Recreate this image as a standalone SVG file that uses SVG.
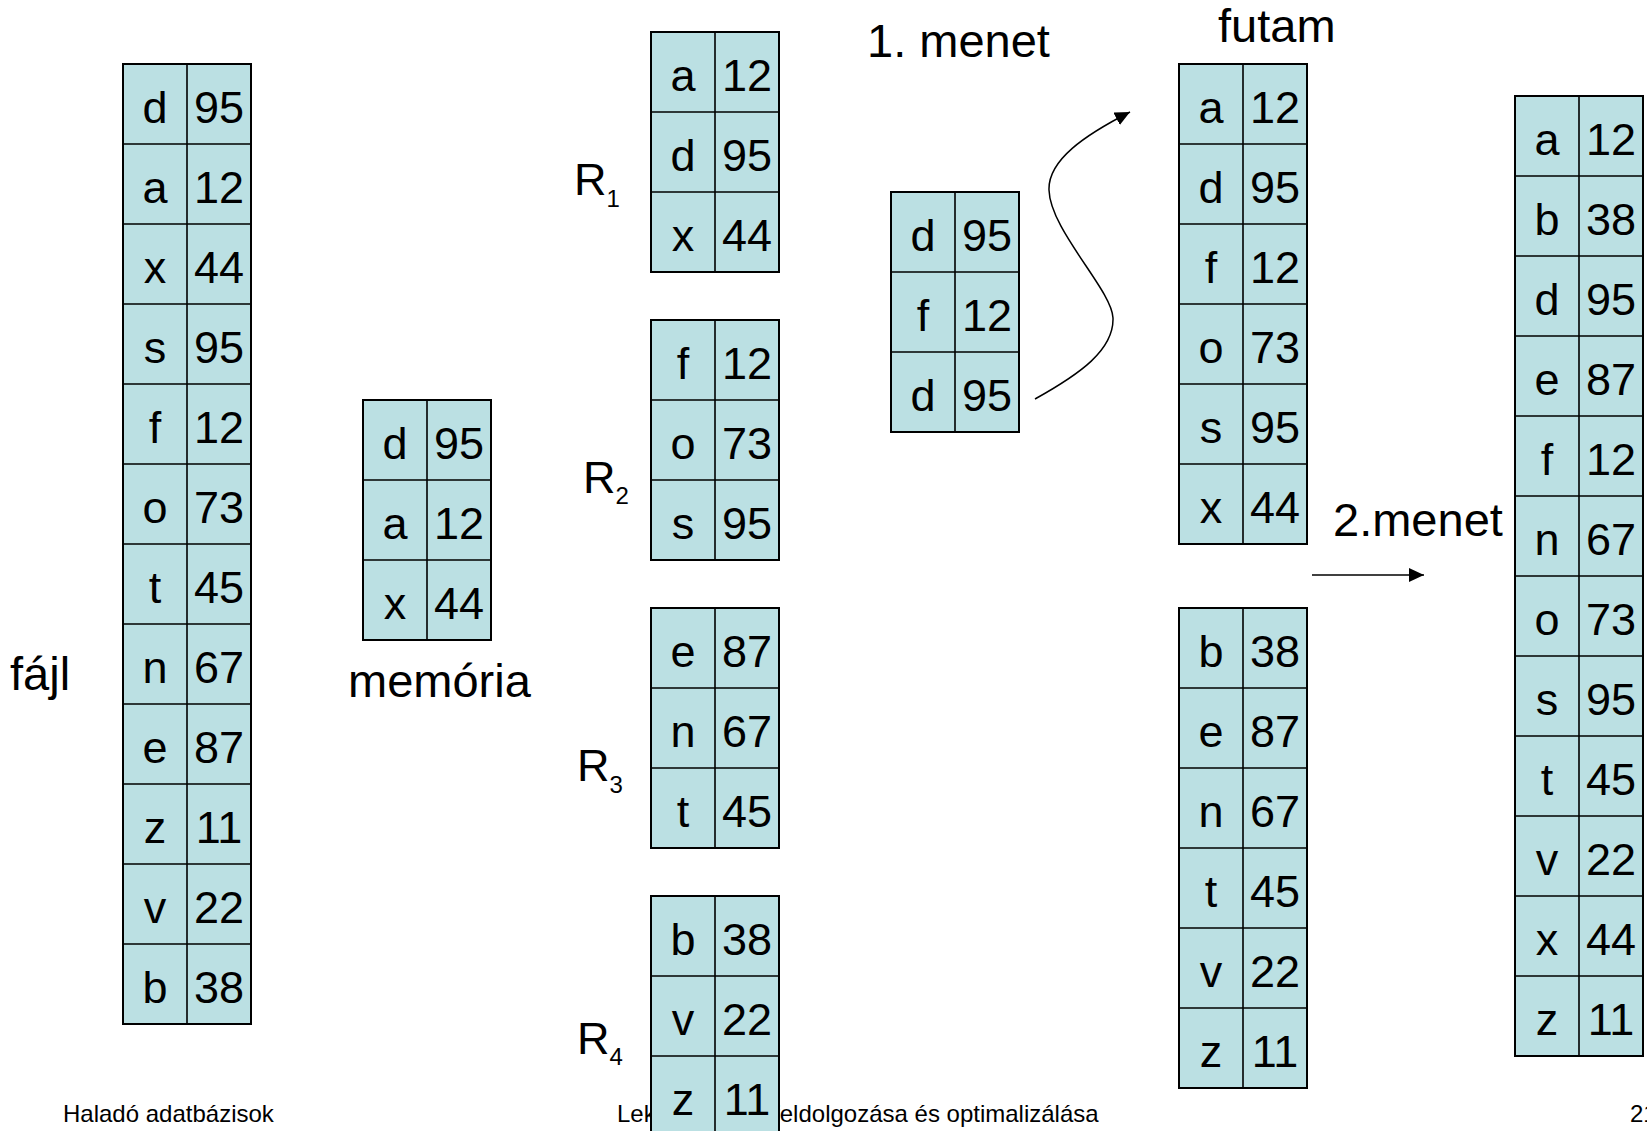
<svg xmlns="http://www.w3.org/2000/svg" width="1647" height="1131" viewBox="0 0 1647 1131">
<style>
text{font-family:"Liberation Sans",Arial,sans-serif;fill:#000}
.t{fill:#BBE0E3;stroke:#000;stroke-width:2}
.g{fill:none;stroke:#000;stroke-width:1.6}
.c{font-size:45px;text-anchor:middle}
.lbl{font-size:47px}
.r{font-size:45px}
.sub{font-size:24px}
.ft{font-size:24px}
.con{fill:none;stroke:#000;stroke-width:1.5}
</style>
<defs>
<marker id="ah" markerUnits="userSpaceOnUse" markerWidth="16" markerHeight="15" refX="15" refY="7" orient="auto"><path d="M0,0 L15,7 L0,14 z" fill="#000"/></marker>
</defs>
<rect width="1647" height="1131" fill="#fff"/>

<g id="footer">
<text class="ft" x="63" y="1122">Haladó adatbázisok</text>
<text class="ft" x="617" y="1122">Lekérdezések feldolgozása és optimalizálása</text>
<text class="ft" x="1630" y="1122">21</text>
</g>

<g id="labels">
<text class="lbl" x="10" y="690">fájl</text>
<text class="lbl" x="348" y="697">memória</text>
<text class="lbl" x="867" y="57">1. menet</text>
<text class="lbl" x="1218" y="42">futam</text>
<text class="lbl" x="1333" y="536">2.menet</text>
<text class="r" x="574" y="195">R<tspan class="sub" dy="11.7">1</tspan></text>
<text class="r" x="583" y="493">R<tspan class="sub" dy="10.7">2</tspan></text>
<text class="r" x="577" y="781">R<tspan class="sub" dy="11.7">3</tspan></text>
<text class="r" x="577" y="1054">R<tspan class="sub" dy="10.7">4</tspan></text>
</g>

<g id="file">
<rect class="t" x="123" y="64" width="128" height="960"/>
<path class="g" d="M187 64V1024M123 144H251M123 224H251M123 304H251M123 384H251M123 464H251M123 544H251M123 624H251M123 704H251M123 784H251M123 864H251M123 944H251"/>
<g class="c">
<text x="155" y="123">d</text><text x="219" y="123">95</text>
<text x="155" y="203">a</text><text x="219" y="203">12</text>
<text x="155" y="283">x</text><text x="219" y="283">44</text>
<text x="155" y="363">s</text><text x="219" y="363">95</text>
<text x="155" y="443">f</text><text x="219" y="443">12</text>
<text x="155" y="523">o</text><text x="219" y="523">73</text>
<text x="155" y="603">t</text><text x="219" y="603">45</text>
<text x="155" y="683">n</text><text x="219" y="683">67</text>
<text x="155" y="763">e</text><text x="219" y="763">87</text>
<text x="155" y="843">z</text><text x="219" y="843">11</text>
<text x="155" y="923">v</text><text x="219" y="923">22</text>
<text x="155" y="1003">b</text><text x="219" y="1003">38</text>
</g>
</g>

<g id="memory">
<rect class="t" x="363" y="400" width="128" height="240"/>
<path class="g" d="M427 400V640M363 480H491M363 560H491"/>
<g class="c">
<text x="395" y="459">d</text><text x="459" y="459">95</text>
<text x="395" y="539">a</text><text x="459" y="539">12</text>
<text x="395" y="619">x</text><text x="459" y="619">44</text>
</g>
</g>

<g id="R1">
<rect class="t" x="651" y="32" width="128" height="240"/>
<path class="g" d="M715 32V272M651 112H779M651 192H779"/>
<g class="c">
<text x="683" y="91">a</text><text x="747" y="91">12</text>
<text x="683" y="171">d</text><text x="747" y="171">95</text>
<text x="683" y="251">x</text><text x="747" y="251">44</text>
</g>
</g>

<g id="R2">
<rect class="t" x="651" y="320" width="128" height="240"/>
<path class="g" d="M715 320V560M651 400H779M651 480H779"/>
<g class="c">
<text x="683" y="379">f</text><text x="747" y="379">12</text>
<text x="683" y="459">o</text><text x="747" y="459">73</text>
<text x="683" y="539">s</text><text x="747" y="539">95</text>
</g>
</g>

<g id="R3">
<rect class="t" x="651" y="608" width="128" height="240"/>
<path class="g" d="M715 608V848M651 688H779M651 768H779"/>
<g class="c">
<text x="683" y="667">e</text><text x="747" y="667">87</text>
<text x="683" y="747">n</text><text x="747" y="747">67</text>
<text x="683" y="827">t</text><text x="747" y="827">45</text>
</g>
</g>

<g id="R4">
<rect class="t" x="651" y="896" width="128" height="240"/>
<path class="g" d="M715 896V1136M651 976H779M651 1056H779"/>
<g class="c">
<text x="683" y="955">b</text><text x="747" y="955">38</text>
<text x="683" y="1035">v</text><text x="747" y="1035">22</text>
<text x="683" y="1115">z</text><text x="747" y="1115">11</text>
</g>
</g>

<g id="pass1">
<rect class="t" x="891" y="192" width="128" height="240"/>
<path class="g" d="M955 192V432M891 272H1019M891 352H1019"/>
<g class="c">
<text x="923" y="251">d</text><text x="987" y="251">95</text>
<text x="923" y="331">f</text><text x="987" y="331">12</text>
<text x="923" y="411">d</text><text x="987" y="411">95</text>
</g>
</g>

<g id="run1">
<rect class="t" x="1179" y="64" width="128" height="480"/>
<path class="g" d="M1243 64V544M1179 144H1307M1179 224H1307M1179 304H1307M1179 384H1307M1179 464H1307"/>
<g class="c">
<text x="1211" y="123">a</text><text x="1275" y="123">12</text>
<text x="1211" y="203">d</text><text x="1275" y="203">95</text>
<text x="1211" y="283">f</text><text x="1275" y="283">12</text>
<text x="1211" y="363">o</text><text x="1275" y="363">73</text>
<text x="1211" y="443">s</text><text x="1275" y="443">95</text>
<text x="1211" y="523">x</text><text x="1275" y="523">44</text>
</g>
</g>

<g id="run2">
<rect class="t" x="1179" y="608" width="128" height="480"/>
<path class="g" d="M1243 608V1088M1179 688H1307M1179 768H1307M1179 848H1307M1179 928H1307M1179 1008H1307"/>
<g class="c">
<text x="1211" y="667">b</text><text x="1275" y="667">38</text>
<text x="1211" y="747">e</text><text x="1275" y="747">87</text>
<text x="1211" y="827">n</text><text x="1275" y="827">67</text>
<text x="1211" y="907">t</text><text x="1275" y="907">45</text>
<text x="1211" y="987">v</text><text x="1275" y="987">22</text>
<text x="1211" y="1067">z</text><text x="1275" y="1067">11</text>
</g>
</g>

<g id="result">
<rect class="t" x="1515" y="96" width="128" height="960"/>
<path class="g" d="M1579 96V1056M1515 176H1643M1515 256H1643M1515 336H1643M1515 416H1643M1515 496H1643M1515 576H1643M1515 656H1643M1515 736H1643M1515 816H1643M1515 896H1643M1515 976H1643"/>
<g class="c">
<text x="1547" y="155">a</text><text x="1611" y="155">12</text>
<text x="1547" y="235">b</text><text x="1611" y="235">38</text>
<text x="1547" y="315">d</text><text x="1611" y="315">95</text>
<text x="1547" y="395">e</text><text x="1611" y="395">87</text>
<text x="1547" y="475">f</text><text x="1611" y="475">12</text>
<text x="1547" y="555">n</text><text x="1611" y="555">67</text>
<text x="1547" y="635">o</text><text x="1611" y="635">73</text>
<text x="1547" y="715">s</text><text x="1611" y="715">95</text>
<text x="1547" y="795">t</text><text x="1611" y="795">45</text>
<text x="1547" y="875">v</text><text x="1611" y="875">22</text>
<text x="1547" y="955">x</text><text x="1611" y="955">44</text>
<text x="1547" y="1035">z</text><text x="1611" y="1035">11</text>
</g>
</g>

<g id="connectors">
<path class="con" d="M1035 399C1080 374 1114 350 1113 318C1112 290 1050 230 1049 190C1048 160 1085 135 1130 112" marker-end="url(#ah)"/>
<path class="con" d="M1312 575H1424" marker-end="url(#ah)"/>
</g>
</svg>
